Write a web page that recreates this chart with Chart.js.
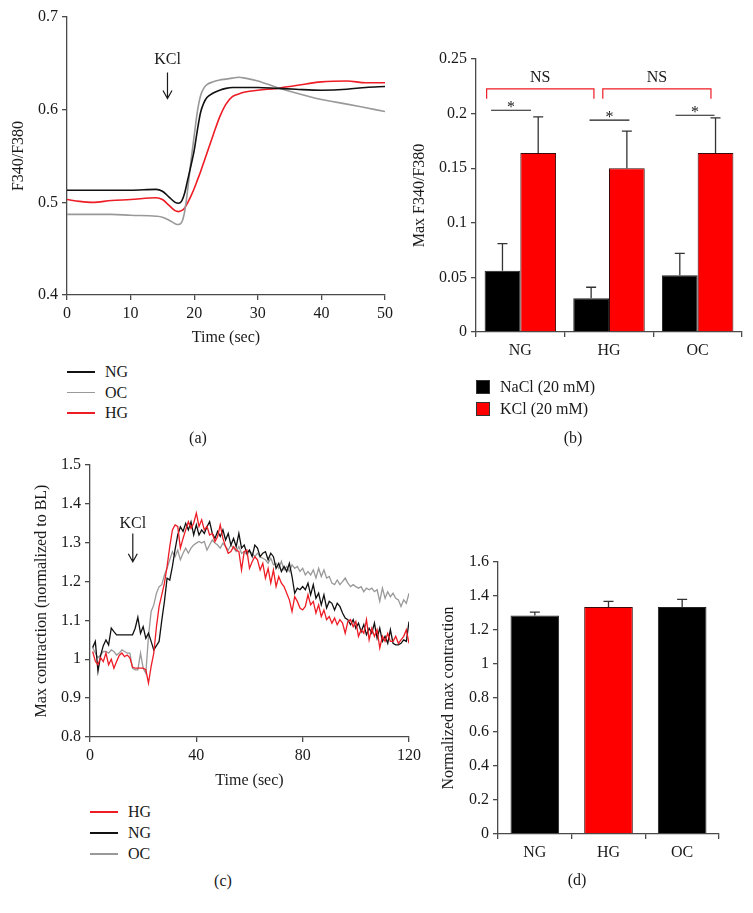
<!DOCTYPE html>
<html>
<head>
<meta charset="utf-8">
<script src="https://cdn.jsdelivr.net/npm/chart.js@4.4.0/dist/chart.umd.min.js"></script>
<style>
  body { margin: 0; background: #fff; }
  #fig { position: relative; width: 753px; height: 913px; overflow: hidden;
         font-family: "Liberation Serif", "Times New Roman", serif; font-size: 16px; color: #1a1a1a; }
  #fig canvas { position: absolute; }
  .txt { position: absolute; white-space: nowrap; line-height: 18px; }
  .cap { transform: translate(-50%, -50%); }
  .key { position: absolute; }
</style>
</head>
<body>
<div id="fig">
  <canvas id="chartA" width="400" height="351" style="left:0;top:0"></canvas>
  <canvas id="chartB" width="373" height="372" style="left:380px;top:0"></canvas>
  <canvas id="chartC" width="430" height="354" style="left:0;top:440px"></canvas>
  <canvas id="chartD" width="333" height="334" style="left:420px;top:540px"></canvas>
</div>
<script>
// ---- (a) calcium transient ----
var timeA = [0, 2, 4, 7, 10, 14, 15, 16, 17, 17.5, 18, 18.5, 19, 19.5, 20, 20.5, 21, 21.5, 22, 23, 24, 25, 26, 27, 28, 30, 33, 36, 40, 44, 47, 50];
var ngA = [0.513, 0.513, 0.513, 0.513, 0.513, 0.514, 0.512, 0.506, 0.500, 0.499, 0.501, 0.510, 0.525, 0.540, 0.556, 0.578, 0.597, 0.607, 0.613, 0.618, 0.621, 0.623, 0.624, 0.624, 0.624, 0.624, 0.623, 0.622, 0.621, 0.622, 0.624, 0.625];
var ocA = [0.487, 0.487, 0.487, 0.487, 0.486, 0.485, 0.484, 0.481, 0.477, 0.476, 0.478, 0.490, 0.515, 0.545, 0.572, 0.598, 0.615, 0.623, 0.627, 0.630, 0.632, 0.633, 0.634, 0.635, 0.634, 0.631, 0.624, 0.618, 0.611, 0.606, 0.602, 0.598];
var hgA = [0.503, 0.501, 0.500, 0.502, 0.503, 0.505, 0.503, 0.497, 0.491, 0.490, 0.491, 0.494, 0.500, 0.507, 0.515, 0.524, 0.533, 0.543, 0.553, 0.573, 0.592, 0.606, 0.614, 0.617, 0.619, 0.621, 0.623, 0.626, 0.630, 0.631, 0.629, 0.629];

// ---- (b) peak ratio ----
var groupsB = ['NG', 'HG', 'OC'];
var naclB = [0.056, 0.031, 0.052];
var naclErrB = [0.025, 0.010, 0.020];
var kclB = [0.164, 0.150, 0.164];
var kclErrB = [0.033, 0.034, 0.032];
// significance marks: [from, to] in category units, level in data units
var nsSpans = [[-0.38, 0.83], [0.93, 2.15]];
var nsLevel = 0.2227;
var starSpans = [[-0.33, 0.12, 0.203], [0.78, 1.23, 0.194], [1.75, 2.19, 0.1985]];

// ---- (c) contraction trace ----
var timeC = [1, 2, 3, 4, 5, 6, 7, 8, 9, 10, 11, 12, 13, 14, 15, 16, 17, 18, 19, 20,
  21, 22, 23, 24, 25, 26, 27, 28, 29, 30, 31, 32, 33, 34, 35, 36, 37, 38, 39, 40,
  41, 42, 43, 44, 45, 46, 47, 48, 49, 50, 51, 52, 53, 54, 55, 56, 57, 58, 59, 60,
  61, 62, 63, 64, 65, 66, 67, 68, 69, 70, 71, 72, 73, 74, 75, 76, 77, 78, 79, 80,
  81, 82, 83, 84, 85, 86, 87, 88, 89, 90, 91, 92, 93, 94, 95, 96, 97, 98, 99, 100,
  101, 102, 103, 104, 105, 106, 107, 108, 109, 110, 111, 112, 113, 114, 115, 116, 117, 118, 119, 120];
var hgC = [1.02, 0.995, 0.986, 1.004, 0.994, 1.016, 0.986, 1.0, 0.977, 0.994,
  1.01, 1.016, 1.007, 1.011, 1.004, 0.98, 0.977, 0.977, 0.977, 0.977,
  0.973, 0.939, 0.982, 1.016, 1.084, 1.136, 1.166, 1.196, 1.239, 1.29,
  1.333, 1.346, 1.342, 1.286, 1.311, 1.333, 1.354, 1.337, 1.35, 1.376,
  1.342, 1.359, 1.333, 1.342, 1.32, 1.324, 1.303, 1.316, 1.346, 1.311,
  1.29, 1.273, 1.277, 1.29, 1.281, 1.277, 1.23, 1.277, 1.281, 1.234,
  1.251, 1.264, 1.256, 1.23, 1.247, 1.209, 1.234, 1.196, 1.23, 1.187,
  1.213, 1.196, 1.187, 1.17, 1.153, 1.123, 1.161, 1.149, 1.132, 1.127,
  1.136, 1.166, 1.14, 1.149, 1.119, 1.14, 1.11, 1.127, 1.102, 1.11,
  1.093, 1.106, 1.089, 1.102, 1.093, 1.067, 1.097, 1.102, 1.084, 1.097,
  1.059, 1.076, 1.067, 1.102, 1.05, 1.08, 1.059, 1.076, 1.029, 1.059,
  1.046, 1.067, 1.046, 1.046, 1.059, 1.041, 1.05, 1.059, 1.076, 1.041];
var ngC = [1.03, 1.046, 0.969, 1.01, 1.035, 1.05, 1.037, 1.08, 1.071, 1.063,
  1.063, 1.063, 1.063, 1.063, 1.063, 1.063, 1.08, 1.108, 1.067, 1.084,
  1.054, 1.067, 1.046, 1.024, 1.035, 1.046, 1.1, 1.149, 1.209, 1.204,
  1.239, 1.282, 1.32, 1.341, 1.329, 1.35, 1.333, 1.354, 1.32, 1.346,
  1.32, 1.333, 1.324, 1.341, 1.354, 1.324, 1.311, 1.329, 1.316, 1.333,
  1.307, 1.324, 1.294, 1.311, 1.29, 1.324, 1.286, 1.294, 1.273, 1.281,
  1.264, 1.294, 1.286, 1.264, 1.273, 1.277, 1.256, 1.273, 1.264, 1.234,
  1.247, 1.226, 1.239, 1.226, 1.247, 1.213, 1.17, 1.183, 1.179, 1.187,
  1.179, 1.196, 1.166, 1.192, 1.157, 1.17, 1.14, 1.166, 1.132, 1.149,
  1.144, 1.127, 1.144, 1.136, 1.119, 1.106, 1.102, 1.089, 1.102, 1.08,
  1.093, 1.071, 1.089, 1.063, 1.08, 1.067, 1.093, 1.054, 1.08, 1.046,
  1.059, 1.041, 1.076, 1.041, 1.037, 1.037, 1.041, 1.05, 1.046, 1.097];
var ocC = [1.03, 1.016, 1.004, 1.011, 1.02, 1.02, 1.016, 1.024, 1.02, 1.011,
  1.016, 1.024, 1.02, 1.016, 1.016, 0.977, 0.973, 0.973, 1.016, 0.977,
  0.964, 1.059, 1.123, 1.14, 1.17, 1.187, 1.192, 1.217, 1.234, 1.256,
  1.277, 1.264, 1.281, 1.256, 1.273, 1.286, 1.273, 1.286, 1.294, 1.299,
  1.303, 1.299, 1.303, 1.281, 1.294, 1.307, 1.299, 1.294, 1.286, 1.299,
  1.29, 1.281, 1.294, 1.286, 1.277, 1.29, 1.273, 1.277, 1.269, 1.277,
  1.273, 1.264, 1.273, 1.264, 1.26, 1.256, 1.247, 1.26, 1.243, 1.247,
  1.234, 1.252, 1.23, 1.239, 1.226, 1.243, 1.234, 1.239, 1.226, 1.234,
  1.217, 1.226, 1.217, 1.23, 1.209, 1.234, 1.213, 1.23, 1.209, 1.213,
  1.196, 1.192, 1.204, 1.192, 1.2, 1.209, 1.196, 1.187, 1.192, 1.187,
  1.183, 1.187, 1.174, 1.183, 1.179, 1.183, 1.174, 1.179, 1.149, 1.183,
  1.157, 1.174, 1.161, 1.17, 1.157, 1.153, 1.136, 1.153, 1.144, 1.17];

// ---- (d) normalized max contraction ----
var groupsD = ['NG', 'HG', 'OC'];
var maxD = [1.285, 1.335, 1.335];
var maxErrD = [0.02, 0.033, 0.045];

// KCl arrows: time, label level, arrow top, arrow tip
var kclA = [15.8, 0.654, 0.640, 0.612];
var kclC = [16.1, 1.348, 1.324, 1.251];

var BLACK = '#111111', GRAY = '#999999', RED = '#ee1c25', AXIS = '#4a4a4a';
var FONT = '"Liberation Serif", "Times New Roman", serif';

Chart.defaults.font.family = FONT;
Chart.defaults.font.size = 16;
Chart.defaults.color = '#1a1a1a';
Chart.defaults.animation = false;

function pts(xs, ys) {
  return xs.map(function (x, i) { return { x: x, y: ys[i] }; });
}
function num(v) { return String(+Number(v).toFixed(3)); }

function axis(pos, o) {
  var s = {
    position: pos,
    border: { display: true, color: AXIS, width: 1.3 },
    grid: { drawOnChartArea: false, drawTicks: true, tickLength: 5, color: AXIS, lineWidth: 1.3, offset: !!o.offsetGrid },
    ticks: { padding: o.pad || 4, maxRotation: 0, autoSkip: false },
    afterFit: function (sc) { if (pos === 'left') sc.width = o.size; else sc.height = o.size; }
  };
  if (o.cb) s.ticks.callback = o.cb;
  if (o.type) s.type = o.type;
  if (o.min !== undefined) { s.min = o.min; s.max = o.max; s.ticks.stepSize = o.step; }
  if (o.title) s.title = { display: true, text: o.title, font: { size: 16 }, padding: 4 };
  return s;
}

// KCl label with arrow, in data coordinates
function kclPlugin(k) {
  return {
    id: 'kcl',
    afterDraw: function (chart) {
      var c = chart.ctx, xs = chart.scales.x, ys = chart.scales.y;
      var x = xs.getPixelForValue(k[0]);
      var y0 = ys.getPixelForValue(k[2]), y1 = ys.getPixelForValue(k[3]);
      c.save();
      c.fillStyle = '#1a1a1a';
      c.font = '16px ' + FONT;
      c.textAlign = 'center';
      c.textBaseline = 'middle';
      c.fillText('KCl', x, ys.getPixelForValue(k[1]));
      c.strokeStyle = '#1a1a1a';
      c.lineWidth = 1.2;
      c.beginPath();
      c.moveTo(x, y0); c.lineTo(x, y1);
      c.moveTo(x - 4.5, y1 - 8); c.lineTo(x, y1); c.lineTo(x + 4.5, y1 - 8);
      c.stroke();
      c.restore();
    }
  };
}

// upward-only error bars, err stored on each dataset
function errPlugin(cap) {
  return {
    id: 'errbars',
    afterDatasetsDraw: function (chart) {
      var c = chart.ctx, ys = chart.scales.y;
      chart.data.datasets.forEach(function (ds, i) {
        chart.getDatasetMeta(i).data.forEach(function (bar, j) {
          var top = ys.getPixelForValue(ds.data[j] + ds.err[j]);
          c.save();
          c.strokeStyle = '#333';
          c.lineWidth = 1.3;
          c.beginPath();
          c.moveTo(bar.x, bar.y); c.lineTo(bar.x, top);
          c.moveTo(bar.x - cap, top); c.lineTo(bar.x + cap, top);
          c.stroke();
          c.restore();
        });
      });
    }
  };
}

var sigPlugin = {
  id: 'sig',
  afterDraw: function (chart) {
    var c = chart.ctx, xs = chart.scales.x, ys = chart.scales.y;
    c.save();
    c.font = '16px ' + FONT;
    c.textAlign = 'center';
    c.fillStyle = '#1a1a1a';
    // NS brackets
    nsSpans.forEach(function (s) {
      var a = xs.getPixelForValue(s[0]), b = xs.getPixelForValue(s[1]);
      var y = ys.getPixelForValue(nsLevel), yd = ys.getPixelForValue(nsLevel - 0.009);
      c.strokeStyle = RED;
      c.lineWidth = 1.2;
      c.beginPath();
      c.moveTo(a, yd); c.lineTo(a, y); c.lineTo(b, y); c.lineTo(b, yd);
      c.stroke();
      c.textBaseline = 'bottom';
      c.fillText('NS', (a + b) / 2, y - 3);
    });
    // star comparisons
    starSpans.forEach(function (s) {
      var a = xs.getPixelForValue(s[0]), b = xs.getPixelForValue(s[1]);
      var y = ys.getPixelForValue(s[2]);
      c.strokeStyle = '#1a1a1a';
      c.lineWidth = 1.1;
      c.beginPath(); c.moveTo(a, y); c.lineTo(b, y); c.stroke();
      c.textBaseline = 'alphabetic';
      c.fillText('*', (a + b) / 2, y + 2);
    });
    c.restore();
  }
};

// (a)
new Chart(document.getElementById('chartA'), {
  type: 'line',
  data: {
    datasets: [
      { label: 'NG', data: pts(timeA, ngA), borderColor: BLACK },
      { label: 'OC', data: pts(timeA, ocA), borderColor: GRAY },
      { label: 'HG', data: pts(timeA, hgA), borderColor: RED }
    ]
  },
  options: {
    responsive: false,
    layout: { padding: { left: 5, top: 17, right: 15, bottom: 0 } },
    elements: { point: { radius: 0 }, line: { borderWidth: 1.6, cubicInterpolationMode: 'monotone' } },
    plugins: { legend: { display: false }, tooltip: { enabled: false } },
    scales: {
      x: axis('bottom', { type: 'linear', min: 0, max: 50, step: 10, size: 56, title: 'Time (sec)', pad: 4, cb: num }),
      y: axis('left', { min: 0.4, max: 0.7, step: 0.1, size: 62, title: 'F340/F380', pad: 4, cb: num })
    }
  },
  plugins: [kclPlugin(kclA)]
});

// (b)
new Chart(document.getElementById('chartB'), {
  type: 'bar',
  data: {
    labels: groupsB,
    datasets: [
      { label: 'NaCl (20 mM)', data: naclB, err: naclErrB, backgroundColor: '#000000', borderColor: '#222', borderWidth: 1 },
      { label: 'KCl (20 mM)', data: kclB, err: kclErrB, backgroundColor: '#ff0000', borderColor: '#3a0a0a', borderWidth: 1 }
    ]
  },
  options: {
    responsive: false,
    layout: { padding: { left: 26, top: 59, right: 11, bottom: 0 } },
    datasets: { bar: { categoryPercentage: 0.806, barPercentage: 1.0 } },
    plugins: { legend: { display: false }, tooltip: { enabled: false } },
    scales: {
      x: axis('bottom', { size: 40, pad: 4, offsetGrid: true }),
      y: axis('left', { min: 0, max: 0.25, step: 0.05, size: 70, title: 'Max F340/F380', pad: 4, cb: num })
    }
  },
  plugins: [errPlugin(5), sigPlugin]
});

// (c)
new Chart(document.getElementById('chartC'), {
  type: 'line',
  data: {
    datasets: [
      { label: 'HG', data: pts(timeC, hgC), borderColor: RED },
      { label: 'NG', data: pts(timeC, ngC), borderColor: BLACK },
      { label: 'OC', data: pts(timeC, ocC), borderColor: GRAY }
    ]
  },
  options: {
    responsive: false,
    layout: { padding: { left: 28, top: 25, right: 21, bottom: 0 } },
    elements: { point: { radius: 0 }, line: { borderWidth: 1.3, tension: 0 } },
    plugins: { legend: { display: false }, tooltip: { enabled: false } },
    scales: {
      x: axis('bottom', { type: 'linear', min: 0, max: 120, step: 40, size: 57, title: 'Time (sec)', pad: 4, cb: num }),
      y: axis('left', { min: 0.8, max: 1.5, step: 0.1, size: 62, title: 'Max contraction (normalized to BL)', pad: 4, cb: num })
    }
  },
  plugins: [kclPlugin(kclC)]
});

// (d)
new Chart(document.getElementById('chartD'), {
  type: 'bar',
  data: {
    labels: groupsD,
    datasets: [
      { label: 'Normalized max contraction', data: maxD, err: maxErrD,
        backgroundColor: ['#000000', '#ff0000', '#000000'], borderColor: ['#222', '#3a0a0a', '#222'], borderWidth: 1 }
    ]
  },
  options: {
    responsive: false,
    layout: { padding: { left: 15, top: 22, right: 34, bottom: 0 } },
    datasets: { bar: { categoryPercentage: 1.0, barPercentage: 0.66 } },
    plugins: { legend: { display: false }, tooltip: { enabled: false } },
    scales: {
      x: axis('bottom', { size: 40, pad: 4, offsetGrid: true }),
      y: axis('left', { min: 0, max: 1.6, step: 0.2, size: 63, title: 'Normalized max contraction', pad: 4, cb: num })
    }
  },
  plugins: [errPlugin(5)]
});

// legends and panel captions as plain text
var fig = document.getElementById('fig');
function text(str, x, y, cls) {
  var d = document.createElement('div');
  d.className = 'txt' + (cls ? ' ' + cls : '');
  d.textContent = str;
  d.style.left = x + 'px';
  d.style.top = y + 'px';
  fig.appendChild(d);
  return d;
}
function lineKey(names, colors, x, y0, gap) {
  names.forEach(function (n, i) {
    var y = y0 + i * gap;
    var k = document.createElement('div');
    k.className = 'key';
    k.style.cssText = 'left:' + x + 'px;top:' + (y - 0.8) + 'px;width:28px;height:1.6px;background:' + colors[i];
    fig.appendChild(k);
    text(n, x + 38, y - 9);
  });
}
function boxKey(names, colors, x, y0, gap) {
  names.forEach(function (n, i) {
    var y = y0 + i * gap;
    var k = document.createElement('div');
    k.className = 'key';
    k.style.cssText = 'left:' + x + 'px;top:' + (y - 7) + 'px;width:12px;height:12px;border:1px solid #333;background:' + colors[i];
    fig.appendChild(k);
    text(n, x + 24, y - 9);
  });
}
lineKey(['NG', 'OC', 'HG'], [BLACK, GRAY, RED], 67, 372, 20.5);
boxKey(['NaCl (20 mM)', 'KCl (20 mM)'], ['#000000', '#ff0000'], 476, 387, 21.5);
lineKey(['HG', 'NG', 'OC'], [RED, BLACK, GRAY], 90, 812, 21);
text('(a)', 198, 438, 'cap');
text('(b)', 573, 438, 'cap');
text('(c)', 223, 881, 'cap');
text('(d)', 577, 880, 'cap');
</script>
</body>
</html>
